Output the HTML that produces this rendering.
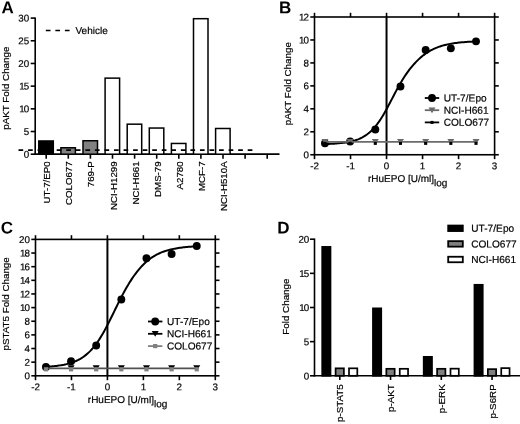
<!DOCTYPE html>
<html><head><meta charset="utf-8"><title>Figure</title>
<style>html,body{margin:0;padding:0;background:#fff;}svg{display:block;filter:blur(0.4px);}</style>
</head><body>
<svg width="520" height="424" viewBox="0 0 520 424" font-family="'Liberation Sans', Arial, sans-serif" fill="#000">
<text x="1.60" y="13.30" font-size="17" text-anchor="start" font-weight="bold" transform="rotate(0.04 1.6 13.3)">A</text>
<line x1="35.20" y1="17.39" x2="35.20" y2="154.90" stroke="#000" stroke-width="1.6"/>
<line x1="34.50" y1="154.20" x2="279.50" y2="154.20" stroke="#000" stroke-width="1.8"/>
<line x1="30.70" y1="154.20" x2="35.20" y2="154.20" stroke="#000" stroke-width="1.6"/>
<text x="29.20" y="157.70" font-size="9.8" text-anchor="end" stroke="#000" stroke-width="0.2" transform="rotate(0.04 29.200000000000003 157.7)">0</text>
<line x1="30.70" y1="131.51" x2="35.20" y2="131.51" stroke="#000" stroke-width="1.6"/>
<text x="29.20" y="135.01" font-size="9.8" text-anchor="end" stroke="#000" stroke-width="0.2" transform="rotate(0.04 29.200000000000003 135.015)">5</text>
<line x1="30.70" y1="108.83" x2="35.20" y2="108.83" stroke="#000" stroke-width="1.6"/>
<text x="29.20" y="112.33" font-size="9.8" text-anchor="end" stroke="#000" stroke-width="0.2" transform="rotate(0.04 29.200000000000003 112.32999999999998)"><tspan letter-spacing="-0.9">1</tspan>0</text>
<line x1="30.70" y1="86.14" x2="35.20" y2="86.14" stroke="#000" stroke-width="1.6"/>
<text x="29.20" y="89.64" font-size="9.8" text-anchor="end" stroke="#000" stroke-width="0.2" transform="rotate(0.04 29.200000000000003 89.645)"><tspan letter-spacing="-0.9">1</tspan>5</text>
<line x1="30.70" y1="63.46" x2="35.20" y2="63.46" stroke="#000" stroke-width="1.6"/>
<text x="29.20" y="66.96" font-size="9.8" text-anchor="end" stroke="#000" stroke-width="0.2" transform="rotate(0.04 29.200000000000003 66.96)">20</text>
<line x1="30.70" y1="40.77" x2="35.20" y2="40.77" stroke="#000" stroke-width="1.6"/>
<text x="29.20" y="44.27" font-size="9.8" text-anchor="end" stroke="#000" stroke-width="0.2" transform="rotate(0.04 29.200000000000003 44.27499999999999)">25</text>
<line x1="30.70" y1="18.09" x2="35.20" y2="18.09" stroke="#000" stroke-width="1.6"/>
<text x="29.20" y="21.59" font-size="9.8" text-anchor="end" stroke="#000" stroke-width="0.2" transform="rotate(0.04 29.200000000000003 21.590000000000003)">30</text>
<text x="9.40" y="88.20" font-size="9.8" text-anchor="middle" stroke="#000" stroke-width="0.2" transform="rotate(-90 9.4 88.2)">pAKT Fold Change</text>
<line x1="45.80" y1="30.50" x2="70.00" y2="30.50" stroke="#000" stroke-width="1.7" stroke-dasharray="4.7 4.85"/>
<text x="75.50" y="34.00" font-size="10" text-anchor="start" stroke="#000" stroke-width="0.2" transform="rotate(0.04 75.5 34)">Vehicle</text>
<rect x="38.80" y="140.97" width="14.50" height="13.23" fill="#000" stroke="#000" stroke-width="1.5"/>
<rect x="60.90" y="147.77" width="14.50" height="6.43" fill="#808080" stroke="#000" stroke-width="1.5"/>
<rect x="83.00" y="140.74" width="14.50" height="13.46" fill="#808080" stroke="#000" stroke-width="1.5"/>
<rect x="105.10" y="78.13" width="14.50" height="76.07" fill="#fff" stroke="#000" stroke-width="1.5"/>
<rect x="127.20" y="124.18" width="14.50" height="30.02" fill="#fff" stroke="#000" stroke-width="1.5"/>
<rect x="149.30" y="128.04" width="14.50" height="26.16" fill="#fff" stroke="#000" stroke-width="1.5"/>
<rect x="171.40" y="143.46" width="14.50" height="10.74" fill="#fff" stroke="#000" stroke-width="1.5"/>
<rect x="193.50" y="18.69" width="14.50" height="135.51" fill="#fff" stroke="#000" stroke-width="1.5"/>
<rect x="215.60" y="128.49" width="14.50" height="25.71" fill="#fff" stroke="#000" stroke-width="1.5"/>
<line x1="46.20" y1="154.20" x2="46.20" y2="158.70" stroke="#000" stroke-width="1.6"/>
<text x="50.30" y="161.40" font-size="9.7" text-anchor="end" stroke="#000" stroke-width="0.2" transform="rotate(-90 50.300000000000004 161.4)">UT-7/EP0</text>
<line x1="68.30" y1="154.20" x2="68.30" y2="158.70" stroke="#000" stroke-width="1.6"/>
<text x="72.40" y="161.40" font-size="9.7" text-anchor="end" stroke="#000" stroke-width="0.2" transform="rotate(-90 72.4 161.4)">COLO677</text>
<line x1="90.40" y1="154.20" x2="90.40" y2="158.70" stroke="#000" stroke-width="1.6"/>
<text x="94.50" y="161.40" font-size="9.7" text-anchor="end" stroke="#000" stroke-width="0.2" transform="rotate(-90 94.5 161.4)">769-P</text>
<line x1="112.50" y1="154.20" x2="112.50" y2="158.70" stroke="#000" stroke-width="1.6"/>
<text x="116.60" y="161.40" font-size="9.7" text-anchor="end" stroke="#000" stroke-width="0.2" transform="rotate(-90 116.60000000000001 161.4)">NCI-H1299</text>
<line x1="134.60" y1="154.20" x2="134.60" y2="158.70" stroke="#000" stroke-width="1.6"/>
<text x="138.70" y="161.40" font-size="9.7" text-anchor="end" stroke="#000" stroke-width="0.2" transform="rotate(-90 138.70000000000002 161.4)">NCI-H661</text>
<line x1="156.70" y1="154.20" x2="156.70" y2="158.70" stroke="#000" stroke-width="1.6"/>
<text x="160.80" y="161.40" font-size="9.7" text-anchor="end" stroke="#000" stroke-width="0.2" transform="rotate(-90 160.79999999999998 161.4)">DMS-79</text>
<line x1="178.80" y1="154.20" x2="178.80" y2="158.70" stroke="#000" stroke-width="1.6"/>
<text x="182.90" y="161.40" font-size="9.7" text-anchor="end" stroke="#000" stroke-width="0.2" transform="rotate(-90 182.9 161.4)">A2780</text>
<line x1="200.90" y1="154.20" x2="200.90" y2="158.70" stroke="#000" stroke-width="1.6"/>
<text x="205.00" y="161.40" font-size="9.7" text-anchor="end" stroke="#000" stroke-width="0.2" transform="rotate(-90 205.00000000000003 161.4)">MCF-7</text>
<line x1="223.00" y1="154.20" x2="223.00" y2="158.70" stroke="#000" stroke-width="1.6"/>
<text x="227.10" y="161.40" font-size="9.7" text-anchor="end" stroke="#000" stroke-width="0.2" transform="rotate(-90 227.1 161.4)">NCI-H510A</text>
<line x1="245.10" y1="154.20" x2="245.10" y2="158.70" stroke="#000" stroke-width="1.6"/>
<line x1="267.20" y1="154.20" x2="267.20" y2="158.70" stroke="#000" stroke-width="1.6"/>
<line x1="18.50" y1="150.10" x2="252.60" y2="150.10" stroke="#000" stroke-width="1.6" stroke-dasharray="4.7 4.85"/>
<text x="278.90" y="13.30" font-size="17" text-anchor="start" font-weight="bold" transform="rotate(0.04 278.9 13.3)">B</text>
<rect x="314.50" y="17.00" width="180.10" height="137.75" fill="none" stroke="#000" stroke-width="1.6"/>
<line x1="386.54" y1="17.00" x2="386.54" y2="154.75" stroke="#000" stroke-width="2.0"/>
<line x1="314.50" y1="154.75" x2="314.50" y2="159.15" stroke="#000" stroke-width="1.6"/>
<line x1="314.50" y1="17.00" x2="314.50" y2="12.80" stroke="#000" stroke-width="1.6"/>
<text x="314.50" y="169.25" font-size="9.8" text-anchor="middle" stroke="#000" stroke-width="0.2" transform="rotate(0.04 314.5 169.25)">-2</text>
<line x1="350.52" y1="154.75" x2="350.52" y2="159.15" stroke="#000" stroke-width="1.6"/>
<line x1="350.52" y1="17.00" x2="350.52" y2="12.80" stroke="#000" stroke-width="1.6"/>
<text x="350.52" y="169.25" font-size="9.8" text-anchor="middle" stroke="#000" stroke-width="0.2" transform="rotate(0.04 350.52 169.25)">-1</text>
<line x1="386.54" y1="154.75" x2="386.54" y2="159.15" stroke="#000" stroke-width="1.6"/>
<line x1="386.54" y1="17.00" x2="386.54" y2="12.80" stroke="#000" stroke-width="1.6"/>
<text x="386.54" y="169.25" font-size="9.8" text-anchor="middle" stroke="#000" stroke-width="0.2" transform="rotate(0.04 386.54 169.25)">0</text>
<line x1="422.56" y1="154.75" x2="422.56" y2="159.15" stroke="#000" stroke-width="1.6"/>
<line x1="422.56" y1="17.00" x2="422.56" y2="12.80" stroke="#000" stroke-width="1.6"/>
<text x="422.56" y="169.25" font-size="9.8" text-anchor="middle" stroke="#000" stroke-width="0.2" transform="rotate(0.04 422.56 169.25)">1</text>
<line x1="458.58" y1="154.75" x2="458.58" y2="159.15" stroke="#000" stroke-width="1.6"/>
<line x1="458.58" y1="17.00" x2="458.58" y2="12.80" stroke="#000" stroke-width="1.6"/>
<text x="458.58" y="169.25" font-size="9.8" text-anchor="middle" stroke="#000" stroke-width="0.2" transform="rotate(0.04 458.58000000000004 169.25)">2</text>
<line x1="494.60" y1="154.75" x2="494.60" y2="159.15" stroke="#000" stroke-width="1.6"/>
<line x1="494.60" y1="17.00" x2="494.60" y2="12.80" stroke="#000" stroke-width="1.6"/>
<text x="494.60" y="169.25" font-size="9.8" text-anchor="middle" stroke="#000" stroke-width="0.2" transform="rotate(0.04 494.6 169.25)">3</text>
<line x1="310.30" y1="154.75" x2="314.50" y2="154.75" stroke="#000" stroke-width="1.6"/>
<line x1="494.60" y1="154.75" x2="498.80" y2="154.75" stroke="#000" stroke-width="1.6"/>
<text x="309.00" y="158.25" font-size="9.8" text-anchor="end" stroke="#000" stroke-width="0.2" transform="rotate(0.04 309.0 158.25)">0</text>
<line x1="310.30" y1="131.79" x2="314.50" y2="131.79" stroke="#000" stroke-width="1.6"/>
<line x1="494.60" y1="131.79" x2="498.80" y2="131.79" stroke="#000" stroke-width="1.6"/>
<text x="309.00" y="135.29" font-size="9.8" text-anchor="end" stroke="#000" stroke-width="0.2" transform="rotate(0.04 309.0 135.29166666666666)">2</text>
<line x1="310.30" y1="108.83" x2="314.50" y2="108.83" stroke="#000" stroke-width="1.6"/>
<line x1="494.60" y1="108.83" x2="498.80" y2="108.83" stroke="#000" stroke-width="1.6"/>
<text x="309.00" y="112.33" font-size="9.8" text-anchor="end" stroke="#000" stroke-width="0.2" transform="rotate(0.04 309.0 112.33333333333334)">4</text>
<line x1="310.30" y1="85.88" x2="314.50" y2="85.88" stroke="#000" stroke-width="1.6"/>
<line x1="494.60" y1="85.88" x2="498.80" y2="85.88" stroke="#000" stroke-width="1.6"/>
<text x="309.00" y="89.38" font-size="9.8" text-anchor="end" stroke="#000" stroke-width="0.2" transform="rotate(0.04 309.0 89.375)">6</text>
<line x1="310.30" y1="62.92" x2="314.50" y2="62.92" stroke="#000" stroke-width="1.6"/>
<line x1="494.60" y1="62.92" x2="498.80" y2="62.92" stroke="#000" stroke-width="1.6"/>
<text x="309.00" y="66.42" font-size="9.8" text-anchor="end" stroke="#000" stroke-width="0.2" transform="rotate(0.04 309.0 66.41666666666667)">8</text>
<line x1="310.30" y1="39.96" x2="314.50" y2="39.96" stroke="#000" stroke-width="1.6"/>
<line x1="494.60" y1="39.96" x2="498.80" y2="39.96" stroke="#000" stroke-width="1.6"/>
<text x="309.00" y="43.46" font-size="9.8" text-anchor="end" stroke="#000" stroke-width="0.2" transform="rotate(0.04 309.0 43.45833333333333)"><tspan letter-spacing="-0.9">1</tspan>0</text>
<line x1="310.30" y1="17.00" x2="314.50" y2="17.00" stroke="#000" stroke-width="1.6"/>
<line x1="494.60" y1="17.00" x2="498.80" y2="17.00" stroke="#000" stroke-width="1.6"/>
<text x="309.00" y="20.50" font-size="9.8" text-anchor="end" stroke="#000" stroke-width="0.2" transform="rotate(0.04 309.0 20.5)"><tspan letter-spacing="-0.9">1</tspan>2</text>
<text x="291.50" y="83.70" font-size="9.8" text-anchor="middle" stroke="#000" stroke-width="0.2" transform="rotate(-90 291.5 83.7)">pAKT Fold Change</text>
<text x="367.94" y="182.05" font-size="10" stroke="#000" stroke-width="0.2" transform="rotate(0.04 367.94 182.05)">rHuEPO [U/ml]<tspan dy="4.2" font-size="10">log</tspan></text>
<path d="M325.31,144.03 L326.57,143.99 L327.83,143.95 L329.09,143.90 L330.35,143.84 L331.61,143.78 L332.87,143.71 L334.13,143.64 L335.39,143.56 L336.65,143.47 L337.91,143.37 L339.17,143.26 L340.43,143.13 L341.70,143.00 L342.96,142.85 L344.22,142.69 L345.48,142.51 L346.74,142.31 L348.00,142.09 L349.26,141.85 L350.52,141.58 L351.78,141.29 L353.04,140.97 L354.30,140.61 L355.56,140.22 L356.82,139.79 L358.08,139.32 L359.34,138.81 L360.61,138.24 L361.87,137.63 L363.13,136.95 L364.39,136.21 L365.65,135.41 L366.91,134.53 L368.17,133.58 L369.43,132.55 L370.69,131.43 L371.95,130.22 L373.21,128.92 L374.47,127.52 L375.73,126.02 L376.99,124.42 L378.26,122.72 L379.52,120.92 L380.78,119.02 L382.04,117.02 L383.30,114.93 L384.56,112.76 L385.82,110.51 L387.08,108.20 L388.34,105.84 L389.60,103.45 L390.86,101.03 L392.12,98.60 L393.38,96.17 L394.64,93.77 L395.91,91.39 L397.17,89.06 L398.43,86.77 L399.69,84.55 L400.95,82.38 L402.21,80.29 L403.47,78.27 L404.73,76.31 L405.99,74.43 L407.25,72.62 L408.51,70.88 L409.77,69.21 L411.03,67.61 L412.29,66.08 L413.56,64.61 L414.82,63.21 L416.08,61.87 L417.34,60.59 L418.60,59.37 L419.86,58.21 L421.12,57.11 L422.38,56.07 L423.64,55.08 L424.90,54.14 L426.16,53.26 L427.42,52.42 L428.68,51.64 L429.94,50.90 L431.20,50.21 L432.47,49.55 L433.73,48.94 L434.99,48.37 L436.25,47.84 L437.51,47.34 L438.77,46.87 L440.03,46.43 L441.29,46.03 L442.55,45.65 L443.81,45.30 L445.07,44.97 L446.33,44.67 L447.59,44.39 L448.85,44.12 L450.12,43.88 L451.38,43.65 L452.64,43.45 L453.90,43.25 L455.16,43.07 L456.42,42.91 L457.68,42.75 L458.94,42.61 L460.20,42.48 L461.46,42.36 L462.72,42.24 L463.98,42.14 L465.24,42.04 L466.50,41.95 L467.77,41.87 L469.03,41.79 L470.29,41.72 L471.55,41.66 L472.81,41.60 L474.07,41.54 L475.33,41.49 L476.59,41.44" fill="none" stroke="#000" stroke-width="2"/>
<circle cx="324.95" cy="143.27" r="3.95" fill="#000"/>
<circle cx="350.12" cy="141.55" r="3.95" fill="#000"/>
<circle cx="375.30" cy="129.50" r="3.95" fill="#000"/>
<circle cx="400.48" cy="86.45" r="3.95" fill="#000"/>
<circle cx="425.66" cy="50.06" r="3.95" fill="#000"/>
<circle cx="450.84" cy="48.34" r="3.95" fill="#000"/>
<circle cx="476.01" cy="41.34" r="3.95" fill="#000"/>
<path d="M321.45,138.90 L328.45,138.90 L324.95,144.60 Z" fill="#6a6a6a"/>
<path d="M346.62,138.90 L353.62,138.90 L350.12,144.60 Z" fill="#6a6a6a"/>
<path d="M371.80,138.90 L378.80,138.90 L375.30,144.60 Z" fill="#6a6a6a"/>
<path d="M396.98,138.90 L403.98,138.90 L400.48,144.60 Z" fill="#6a6a6a"/>
<path d="M422.16,138.90 L429.16,138.90 L425.66,144.60 Z" fill="#6a6a6a"/>
<path d="M447.34,138.90 L454.34,138.90 L450.84,144.60 Z" fill="#6a6a6a"/>
<path d="M472.51,138.90 L479.51,138.90 L476.01,144.60 Z" fill="#6a6a6a"/>
<line x1="324.95" y1="141.80" x2="476.01" y2="141.80" stroke="#6a6a6a" stroke-width="1.7"/>
<rect x="323.40" y="141.90" width="3.1" height="3.0" fill="#000"/>
<rect x="348.57" y="141.90" width="3.1" height="3.0" fill="#000"/>
<rect x="373.75" y="141.90" width="3.1" height="3.0" fill="#000"/>
<rect x="398.93" y="141.90" width="3.1" height="3.0" fill="#000"/>
<rect x="424.11" y="141.90" width="3.1" height="3.0" fill="#000"/>
<rect x="449.29" y="141.90" width="3.1" height="3.0" fill="#000"/>
<rect x="474.46" y="141.90" width="3.1" height="3.0" fill="#000"/>
<line x1="424.80" y1="98.00" x2="439.20" y2="98.00" stroke="#000" stroke-width="1.8"/>
<circle cx="432.00" cy="98.00" r="3.95" fill="#000"/>
<text x="443.70" y="101.45" font-size="10.1" text-anchor="start" stroke="#000" stroke-width="0.2" transform="rotate(0.04 443.7 101.45)" letter-spacing="0.05">UT-7/Epo</text>
<line x1="424.80" y1="110.20" x2="439.20" y2="110.20" stroke="#6a6a6a" stroke-width="1.8"/>
<path d="M428.50,107.50 L435.50,107.50 L432.00,113.20 Z" fill="#6a6a6a"/>
<text x="443.70" y="113.65" font-size="10.1" text-anchor="start" stroke="#000" stroke-width="0.2" transform="rotate(0.04 443.7 113.65)">NCI-H661</text>
<line x1="424.80" y1="122.40" x2="439.20" y2="122.40" stroke="#000" stroke-width="1.8"/>
<rect x="430.45" y="120.90" width="3.1" height="3.0" fill="#000"/>
<text x="443.70" y="125.85" font-size="10.1" text-anchor="start" stroke="#000" stroke-width="0.2" transform="rotate(0.04 443.7 125.85000000000001)">COLO677</text>
<text x="0.80" y="233.60" font-size="17" text-anchor="start" font-weight="bold" transform="rotate(0.04 0.8 233.6)">C</text>
<rect x="35.50" y="239.40" width="179.80" height="136.40" fill="none" stroke="#000" stroke-width="1.6"/>
<line x1="107.42" y1="239.40" x2="107.42" y2="375.80" stroke="#000" stroke-width="2.0"/>
<line x1="35.50" y1="375.80" x2="35.50" y2="380.20" stroke="#000" stroke-width="1.6"/>
<line x1="35.50" y1="239.40" x2="35.50" y2="235.20" stroke="#000" stroke-width="1.6"/>
<text x="35.50" y="390.30" font-size="9.8" text-anchor="middle" stroke="#000" stroke-width="0.2" transform="rotate(0.04 35.5 390.3)">-2</text>
<line x1="71.46" y1="375.80" x2="71.46" y2="380.20" stroke="#000" stroke-width="1.6"/>
<line x1="71.46" y1="239.40" x2="71.46" y2="235.20" stroke="#000" stroke-width="1.6"/>
<text x="71.46" y="390.30" font-size="9.8" text-anchor="middle" stroke="#000" stroke-width="0.2" transform="rotate(0.04 71.46000000000001 390.3)">-1</text>
<line x1="107.42" y1="375.80" x2="107.42" y2="380.20" stroke="#000" stroke-width="1.6"/>
<line x1="107.42" y1="239.40" x2="107.42" y2="235.20" stroke="#000" stroke-width="1.6"/>
<text x="107.42" y="390.30" font-size="9.8" text-anchor="middle" stroke="#000" stroke-width="0.2" transform="rotate(0.04 107.42 390.3)">0</text>
<line x1="143.38" y1="375.80" x2="143.38" y2="380.20" stroke="#000" stroke-width="1.6"/>
<line x1="143.38" y1="239.40" x2="143.38" y2="235.20" stroke="#000" stroke-width="1.6"/>
<text x="143.38" y="390.30" font-size="9.8" text-anchor="middle" stroke="#000" stroke-width="0.2" transform="rotate(0.04 143.38 390.3)">1</text>
<line x1="179.34" y1="375.80" x2="179.34" y2="380.20" stroke="#000" stroke-width="1.6"/>
<line x1="179.34" y1="239.40" x2="179.34" y2="235.20" stroke="#000" stroke-width="1.6"/>
<text x="179.34" y="390.30" font-size="9.8" text-anchor="middle" stroke="#000" stroke-width="0.2" transform="rotate(0.04 179.34 390.3)">2</text>
<line x1="215.30" y1="375.80" x2="215.30" y2="380.20" stroke="#000" stroke-width="1.6"/>
<line x1="215.30" y1="239.40" x2="215.30" y2="235.20" stroke="#000" stroke-width="1.6"/>
<text x="215.30" y="390.30" font-size="9.8" text-anchor="middle" stroke="#000" stroke-width="0.2" transform="rotate(0.04 215.3 390.3)">3</text>
<line x1="31.30" y1="375.80" x2="35.50" y2="375.80" stroke="#000" stroke-width="1.6"/>
<line x1="215.30" y1="375.80" x2="219.50" y2="375.80" stroke="#000" stroke-width="1.6"/>
<text x="30.00" y="379.30" font-size="9.8" text-anchor="end" stroke="#000" stroke-width="0.2" transform="rotate(0.04 30.0 379.3)">0</text>
<line x1="31.30" y1="362.16" x2="35.50" y2="362.16" stroke="#000" stroke-width="1.6"/>
<line x1="215.30" y1="362.16" x2="219.50" y2="362.16" stroke="#000" stroke-width="1.6"/>
<text x="30.00" y="365.66" font-size="9.8" text-anchor="end" stroke="#000" stroke-width="0.2" transform="rotate(0.04 30.0 365.66)">2</text>
<line x1="31.30" y1="348.52" x2="35.50" y2="348.52" stroke="#000" stroke-width="1.6"/>
<line x1="215.30" y1="348.52" x2="219.50" y2="348.52" stroke="#000" stroke-width="1.6"/>
<text x="30.00" y="352.02" font-size="9.8" text-anchor="end" stroke="#000" stroke-width="0.2" transform="rotate(0.04 30.0 352.02)">4</text>
<line x1="31.30" y1="334.88" x2="35.50" y2="334.88" stroke="#000" stroke-width="1.6"/>
<line x1="215.30" y1="334.88" x2="219.50" y2="334.88" stroke="#000" stroke-width="1.6"/>
<text x="30.00" y="338.38" font-size="9.8" text-anchor="end" stroke="#000" stroke-width="0.2" transform="rotate(0.04 30.0 338.38)">6</text>
<line x1="31.30" y1="321.24" x2="35.50" y2="321.24" stroke="#000" stroke-width="1.6"/>
<line x1="215.30" y1="321.24" x2="219.50" y2="321.24" stroke="#000" stroke-width="1.6"/>
<text x="30.00" y="324.74" font-size="9.8" text-anchor="end" stroke="#000" stroke-width="0.2" transform="rotate(0.04 30.0 324.74)">8</text>
<line x1="31.30" y1="307.60" x2="35.50" y2="307.60" stroke="#000" stroke-width="1.6"/>
<line x1="215.30" y1="307.60" x2="219.50" y2="307.60" stroke="#000" stroke-width="1.6"/>
<text x="30.00" y="311.10" font-size="9.8" text-anchor="end" stroke="#000" stroke-width="0.2" transform="rotate(0.04 30.0 311.1)"><tspan letter-spacing="-0.9">1</tspan>0</text>
<line x1="31.30" y1="293.96" x2="35.50" y2="293.96" stroke="#000" stroke-width="1.6"/>
<line x1="215.30" y1="293.96" x2="219.50" y2="293.96" stroke="#000" stroke-width="1.6"/>
<text x="30.00" y="297.46" font-size="9.8" text-anchor="end" stroke="#000" stroke-width="0.2" transform="rotate(0.04 30.0 297.46000000000004)"><tspan letter-spacing="-0.9">1</tspan>2</text>
<line x1="31.30" y1="280.32" x2="35.50" y2="280.32" stroke="#000" stroke-width="1.6"/>
<line x1="215.30" y1="280.32" x2="219.50" y2="280.32" stroke="#000" stroke-width="1.6"/>
<text x="30.00" y="283.82" font-size="9.8" text-anchor="end" stroke="#000" stroke-width="0.2" transform="rotate(0.04 30.0 283.82)"><tspan letter-spacing="-0.9">1</tspan>4</text>
<line x1="31.30" y1="266.68" x2="35.50" y2="266.68" stroke="#000" stroke-width="1.6"/>
<line x1="215.30" y1="266.68" x2="219.50" y2="266.68" stroke="#000" stroke-width="1.6"/>
<text x="30.00" y="270.18" font-size="9.8" text-anchor="end" stroke="#000" stroke-width="0.2" transform="rotate(0.04 30.0 270.18)"><tspan letter-spacing="-0.9">1</tspan>6</text>
<line x1="31.30" y1="253.04" x2="35.50" y2="253.04" stroke="#000" stroke-width="1.6"/>
<line x1="215.30" y1="253.04" x2="219.50" y2="253.04" stroke="#000" stroke-width="1.6"/>
<text x="30.00" y="256.54" font-size="9.8" text-anchor="end" stroke="#000" stroke-width="0.2" transform="rotate(0.04 30.0 256.54)"><tspan letter-spacing="-0.9">1</tspan>8</text>
<line x1="31.30" y1="239.40" x2="35.50" y2="239.40" stroke="#000" stroke-width="1.6"/>
<line x1="215.30" y1="239.40" x2="219.50" y2="239.40" stroke="#000" stroke-width="1.6"/>
<text x="30.00" y="242.90" font-size="9.8" text-anchor="end" stroke="#000" stroke-width="0.2" transform="rotate(0.04 30.0 242.9)">20</text>
<text x="8.90" y="303.90" font-size="9.8" text-anchor="middle" stroke="#000" stroke-width="0.2" transform="rotate(-90 8.9 303.9)">pSTAT5 Fold Change</text>
<text x="87.82" y="403.10" font-size="10" stroke="#000" stroke-width="0.2" transform="rotate(0.04 87.82 403.10)">rHuEPO [U/ml]<tspan dy="4.2" font-size="10">log</tspan></text>
<path d="M46.29,366.76 L47.55,366.68 L48.81,366.59 L50.06,366.50 L51.32,366.40 L52.58,366.29 L53.84,366.16 L55.10,366.03 L56.36,365.89 L57.62,365.73 L58.87,365.56 L60.13,365.37 L61.39,365.16 L62.65,364.94 L63.91,364.70 L65.17,364.43 L66.43,364.15 L67.68,363.83 L68.94,363.50 L70.20,363.13 L71.46,362.73 L72.72,362.29 L73.98,361.82 L75.24,361.31 L76.49,360.75 L77.75,360.15 L79.01,359.50 L80.27,358.80 L81.53,358.05 L82.79,357.23 L84.05,356.35 L85.30,355.40 L86.56,354.38 L87.82,353.29 L89.08,352.12 L90.34,350.87 L91.60,349.53 L92.86,348.11 L94.11,346.60 L95.37,344.99 L96.63,343.29 L97.89,341.50 L99.15,339.62 L100.41,337.64 L101.67,335.57 L102.92,333.42 L104.18,331.19 L105.44,328.88 L106.70,326.51 L107.96,324.07 L109.22,321.59 L110.48,319.06 L111.74,316.51 L112.99,313.94 L114.25,311.36 L115.51,308.78 L116.77,306.21 L118.03,303.67 L119.29,301.15 L120.55,298.68 L121.80,296.25 L123.06,293.87 L124.32,291.54 L125.58,289.27 L126.84,287.07 L128.10,284.93 L129.36,282.85 L130.61,280.85 L131.87,278.91 L133.13,277.05 L134.39,275.26 L135.65,273.54 L136.91,271.89 L138.17,270.31 L139.42,268.81 L140.68,267.37 L141.94,266.01 L143.20,264.71 L144.46,263.49 L145.72,262.32 L146.98,261.22 L148.23,260.18 L149.49,259.20 L150.75,258.28 L152.01,257.41 L153.27,256.60 L154.53,255.83 L155.79,255.12 L157.04,254.44 L158.30,253.82 L159.56,253.23 L160.82,252.68 L162.08,252.17 L163.34,251.69 L164.60,251.25 L165.85,250.84 L167.11,250.45 L168.37,250.09 L169.63,249.76 L170.89,249.45 L172.15,249.16 L173.41,248.89 L174.67,248.65 L175.92,248.42 L177.18,248.20 L178.44,248.00 L179.70,247.82 L180.96,247.65 L182.22,247.49 L183.48,247.35 L184.73,247.21 L185.99,247.09 L187.25,246.97 L188.51,246.86 L189.77,246.76 L191.03,246.67 L192.29,246.58 L193.54,246.51 L194.80,246.43 L196.06,246.37 L197.32,246.30" fill="none" stroke="#000" stroke-width="2"/>
<circle cx="45.93" cy="366.90" r="3.95" fill="#000"/>
<circle cx="71.06" cy="361.21" r="3.95" fill="#000"/>
<circle cx="96.20" cy="345.52" r="3.95" fill="#000"/>
<circle cx="121.34" cy="299.48" r="3.95" fill="#000"/>
<circle cx="146.47" cy="258.22" r="3.95" fill="#000"/>
<circle cx="171.61" cy="254.06" r="3.95" fill="#000"/>
<circle cx="196.74" cy="246.02" r="3.95" fill="#000"/>
<path d="M42.43,365.30 L49.43,365.30 L45.93,371.00 Z" fill="#000"/>
<path d="M67.56,365.30 L74.56,365.30 L71.06,371.00 Z" fill="#000"/>
<path d="M92.70,365.30 L99.70,365.30 L96.20,371.00 Z" fill="#000"/>
<path d="M117.84,365.30 L124.84,365.30 L121.34,371.00 Z" fill="#000"/>
<path d="M142.97,365.30 L149.97,365.30 L146.47,371.00 Z" fill="#000"/>
<path d="M168.11,365.30 L175.11,365.30 L171.61,371.00 Z" fill="#000"/>
<path d="M193.24,365.30 L200.24,365.30 L196.74,371.00 Z" fill="#000"/>
<line x1="45.93" y1="368.40" x2="196.74" y2="368.40" stroke="#505050" stroke-width="1.7"/>
<rect x="43.83" y="367.20" width="4.2" height="4.2" fill="#808080"/>
<rect x="68.96" y="367.20" width="4.2" height="4.2" fill="#808080"/>
<rect x="94.10" y="367.20" width="4.2" height="4.2" fill="#808080"/>
<rect x="119.24" y="367.20" width="4.2" height="4.2" fill="#808080"/>
<rect x="144.37" y="367.20" width="4.2" height="4.2" fill="#808080"/>
<rect x="169.51" y="367.20" width="4.2" height="4.2" fill="#808080"/>
<rect x="194.64" y="367.20" width="4.2" height="4.2" fill="#808080"/>
<line x1="148.00" y1="321.50" x2="162.40" y2="321.50" stroke="#000" stroke-width="1.8"/>
<circle cx="155.20" cy="321.50" r="3.95" fill="#000"/>
<text x="166.90" y="324.95" font-size="10.1" text-anchor="start" stroke="#000" stroke-width="0.2" transform="rotate(0.04 166.89999999999998 324.95)" letter-spacing="0.05">UT-7/Epo</text>
<line x1="148.00" y1="333.80" x2="162.40" y2="333.80" stroke="#000" stroke-width="1.8"/>
<path d="M151.70,331.10 L158.70,331.10 L155.20,336.80 Z" fill="#000"/>
<text x="166.90" y="337.25" font-size="10.1" text-anchor="start" stroke="#000" stroke-width="0.2" transform="rotate(0.04 166.89999999999998 337.25)">NCI-H661</text>
<line x1="148.00" y1="346.10" x2="162.40" y2="346.10" stroke="#808080" stroke-width="1.8"/>
<rect x="153.10" y="344.00" width="4.2" height="4.2" fill="#808080"/>
<text x="166.90" y="349.55" font-size="10.1" text-anchor="start" stroke="#000" stroke-width="0.2" transform="rotate(0.04 166.89999999999998 349.55)">COLO677</text>
<text x="277.30" y="233.60" font-size="17" text-anchor="start" font-weight="bold" transform="rotate(0.04 277.3 233.6)">D</text>
<line x1="314.50" y1="238.50" x2="314.50" y2="376.50" stroke="#000" stroke-width="1.6"/>
<line x1="313.80" y1="375.80" x2="520.00" y2="375.80" stroke="#000" stroke-width="1.6"/>
<line x1="310.00" y1="375.80" x2="314.50" y2="375.80" stroke="#000" stroke-width="1.6"/>
<text x="309.30" y="379.40" font-size="9.8" text-anchor="end" stroke="#000" stroke-width="0.2" transform="rotate(0.04 309.3 379.40000000000003)">0</text>
<line x1="310.00" y1="341.65" x2="314.50" y2="341.65" stroke="#000" stroke-width="1.6"/>
<text x="309.30" y="345.25" font-size="9.8" text-anchor="end" stroke="#000" stroke-width="0.2" transform="rotate(0.04 309.3 345.25000000000006)">5</text>
<line x1="310.00" y1="307.50" x2="314.50" y2="307.50" stroke="#000" stroke-width="1.6"/>
<text x="309.30" y="311.10" font-size="9.8" text-anchor="end" stroke="#000" stroke-width="0.2" transform="rotate(0.04 309.3 311.1)"><tspan letter-spacing="-0.9">1</tspan>0</text>
<line x1="310.00" y1="273.35" x2="314.50" y2="273.35" stroke="#000" stroke-width="1.6"/>
<text x="309.30" y="276.95" font-size="9.8" text-anchor="end" stroke="#000" stroke-width="0.2" transform="rotate(0.04 309.3 276.95000000000005)"><tspan letter-spacing="-0.9">1</tspan>5</text>
<line x1="310.00" y1="239.20" x2="314.50" y2="239.20" stroke="#000" stroke-width="1.6"/>
<text x="309.30" y="242.80" font-size="9.8" text-anchor="end" stroke="#000" stroke-width="0.2" transform="rotate(0.04 309.3 242.8)">20</text>
<text x="288.70" y="306.60" font-size="9.8" text-anchor="middle" stroke="#000" stroke-width="0.2" transform="rotate(-90 288.7 306.6)">Fold Change</text>
<line x1="339.80" y1="375.80" x2="339.80" y2="380.00" stroke="#000" stroke-width="1.6"/>
<rect x="322.20" y="246.88" width="8.30" height="128.92" fill="#000" stroke="#000" stroke-width="1.7"/>
<rect x="335.60" y="368.32" width="8.30" height="7.48" fill="#808080" stroke="#000" stroke-width="1.7"/>
<rect x="349.00" y="368.32" width="8.30" height="7.48" fill="#fff" stroke="#000" stroke-width="1.7"/>
<text x="343.50" y="384.30" font-size="9.8" text-anchor="end" stroke="#000" stroke-width="0.2" transform="rotate(-90 343.5 384.3)">p-STAT5</text>
<line x1="390.55" y1="375.80" x2="390.55" y2="380.00" stroke="#000" stroke-width="1.6"/>
<rect x="372.95" y="308.35" width="8.30" height="67.45" fill="#000" stroke="#000" stroke-width="1.7"/>
<rect x="386.35" y="368.80" width="8.30" height="7.00" fill="#808080" stroke="#000" stroke-width="1.7"/>
<rect x="399.75" y="368.80" width="8.30" height="7.00" fill="#fff" stroke="#000" stroke-width="1.7"/>
<text x="394.25" y="384.30" font-size="9.8" text-anchor="end" stroke="#000" stroke-width="0.2" transform="rotate(-90 394.25 384.3)">p-AKT</text>
<line x1="441.30" y1="375.80" x2="441.30" y2="380.00" stroke="#000" stroke-width="1.6"/>
<rect x="423.70" y="356.84" width="8.30" height="18.96" fill="#000" stroke="#000" stroke-width="1.7"/>
<rect x="437.10" y="368.80" width="8.30" height="7.00" fill="#808080" stroke="#000" stroke-width="1.7"/>
<rect x="450.50" y="368.66" width="8.30" height="7.14" fill="#fff" stroke="#000" stroke-width="1.7"/>
<text x="445.00" y="384.30" font-size="9.8" text-anchor="end" stroke="#000" stroke-width="0.2" transform="rotate(-90 445.0 384.3)">p-ERK</text>
<line x1="492.05" y1="375.80" x2="492.05" y2="380.00" stroke="#000" stroke-width="1.6"/>
<rect x="474.45" y="284.79" width="8.30" height="91.01" fill="#000" stroke="#000" stroke-width="1.7"/>
<rect x="487.85" y="369.14" width="8.30" height="6.66" fill="#808080" stroke="#000" stroke-width="1.7"/>
<rect x="501.25" y="368.11" width="8.30" height="7.69" fill="#fff" stroke="#000" stroke-width="1.7"/>
<text x="495.75" y="384.30" font-size="9.8" text-anchor="end" stroke="#000" stroke-width="0.2" transform="rotate(-90 495.75 384.3)">p-S6RP</text>
<rect x="448.20" y="225.55" width="14.60" height="5.50" fill="#000" stroke="#000" stroke-width="1.8"/>
<text x="471.20" y="231.80" font-size="10.1" text-anchor="start" stroke="#000" stroke-width="0.2" transform="rotate(0.04 471.2 231.8)" letter-spacing="0.05">UT-7/Epo</text>
<rect x="448.20" y="241.15" width="14.60" height="5.50" fill="#808080" stroke="#000" stroke-width="1.8"/>
<text x="471.20" y="247.40" font-size="10.1" text-anchor="start" stroke="#000" stroke-width="0.2" transform="rotate(0.04 471.2 247.4)">COLO677</text>
<rect x="448.20" y="256.75" width="14.60" height="5.50" fill="#fff" stroke="#000" stroke-width="1.8"/>
<text x="471.20" y="263.00" font-size="10.1" text-anchor="start" stroke="#000" stroke-width="0.2" transform="rotate(0.04 471.2 263.0)">NCI-H661</text>
</svg>
</body></html>
